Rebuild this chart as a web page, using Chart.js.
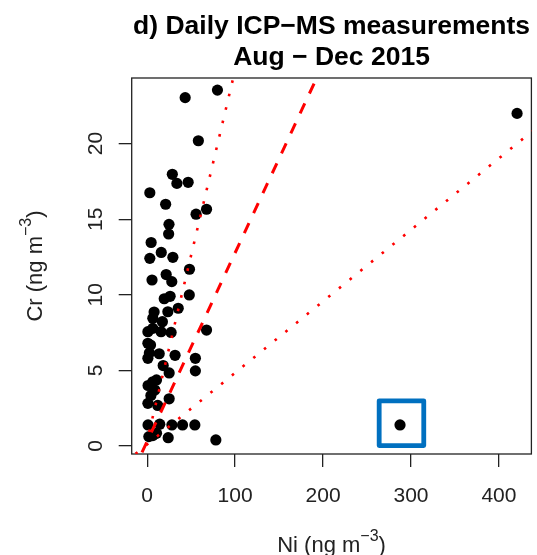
<!DOCTYPE html>
<html>
<head>
<meta charset="utf-8">
<script src="https://cdn.jsdelivr.net/npm/chart.js@4.4.1/dist/chart.umd.min.js"></script>
<style>
  html, body { margin: 0; padding: 0; background: #ffffff; }
  #wrap { width: 537px; height: 555px; }
</style>
</head>
<body>
<div id="wrap"><canvas id="chart" width="537" height="555"></canvas></div>
<script>
// Daily ICP-MS measurements, Aug - Dec 2015: Ni vs Cr (ng m-3)
const niValues = [79.9, 43.2, 58.2, 28.6, 33.8, 46.6, 3.0, 21.0, 55.6, 67.5,
  24.8, 24.4, 4.5, 16.0, 3.0, 29.2, 48.1, 5.5, 21.6, 28.0,
  47.9, 19.4, 26.1, 35.3, 7.9, 23.5, 6.4, 17.3, 67.5, 6.4,
  15.8, 27.2, 0.8, 0.8, 3.8, 2.5, 13.7, 31.7, 54.8, 54.8,
  18.2, 25.0, 1.0, 6.4, 10.6, 4.2, 0.8, 12.0, 25.0, 1.0,
  14.3, 28.1, 40.2, 54.2, 6.4, 23.9, 10.6, 78.1, 287.5, 420.6,
  0.8, 1.9, 8.7];
const crValues = [23.54, 23.04, 20.19, 17.97, 17.37, 17.44, 16.75, 15.99, 15.33, 15.66,
  14.66, 14.02, 13.46, 12.80, 12.41, 12.48, 11.69, 10.98, 11.34, 10.87,
  9.99, 9.74, 9.90, 9.11, 8.86, 8.88, 8.45, 8.22, 7.67, 7.78,
  7.56, 7.51, 7.56, 6.79, 6.68, 6.15, 6.10, 6.00, 5.80, 4.97,
  5.32, 4.83, 4.00, 4.25, 4.37, 3.34, 2.82, 2.68, 3.12, 1.39,
  1.44, 1.39, 1.39, 1.39, 0.69, 0.55, 0.84, 0.40, 1.39, 22.0,
  5.80, 0.62, 3.70];

// Reference lines: central ratio (dashed) and bounding ratios (dotted)
const fitSlopes = [0.1247, 0.245, 0.0473];
const fitIntercepts = [0.31, 0.37, 0.11];

// Tick labels
const xTickValues = [0, 100, 200, 300, 400];
const yTickValues = [0, 5, 10, 15, 20];

// Highlighted sample (Ni, Cr corners of the frame)
const outlierBoxX = [263.8, 314.5];
const outlierBoxY = [0.03, 2.99];

const xRange = [-17.6, 436.9];
const yRange = [-0.53, 24.34];

const FONT = '"Liberation Sans", Arial, Helvetica, sans-serif';
const INK = '#222222';

const points = niValues.map((v, i) => ({ x: v, y: crValues[i] }));
const lineStyles = [
  { dash: [11, 11], width: 3 },
  { dash: [2.6, 11.2], width: 2.6 },
  { dash: [2.6, 11.2], width: 2.6 }
];
const lineSets = fitSlopes.map((s, i) => ({
  type: 'line',
  data: [xRange[0] - 20, xRange[1] + 20].map(x => ({ x: x, y: fitIntercepts[i] + s * x })),
  borderColor: '#ff0000',
  borderWidth: lineStyles[i].width,
  borderDash: lineStyles[i].dash,
  pointRadius: 0,
  fill: false,
  clip: 0,
  order: 0
}));

function drawSuper(ctx, parts, x, y, align) {
  // parts: main text, superscript text, tail text
  ctx.font = '22px ' + FONT;
  const w1 = ctx.measureText(parts[0]).width;
  const w3 = ctx.measureText(parts[2]).width;
  ctx.font = '16px ' + FONT;
  const w2 = ctx.measureText(parts[1]).width;
  const total = w1 + w2 + w3;
  let sx = x - total / 2;
  ctx.textAlign = 'left';
  ctx.textBaseline = 'alphabetic';
  ctx.font = '22px ' + FONT;
  ctx.fillText(parts[0], sx, y);
  ctx.font = '16px ' + FONT;
  ctx.fillText(parts[1], sx + w1, y - 11);
  ctx.font = '22px ' + FONT;
  ctx.fillText(parts[2], sx + w1 + w2, y);
}

const decorations = {
  id: 'decorations',
  beforeDatasetsDraw(chart) {
    const { ctx, chartArea: a } = chart;
    ctx.save();
    ctx.strokeStyle = INK;
    ctx.lineWidth = 1.3;
    ctx.strokeRect(a.left, a.top, a.right - a.left, a.bottom - a.top);
    ctx.restore();
  },
  afterDatasetsDraw(chart) {
    const { ctx, chartArea: a, scales } = chart;
    const xs = scales.x, ys = scales.y;
    ctx.save();
    // frame around the highlighted sample
    const l = xs.getPixelForValue(outlierBoxX[0]);
    const r = xs.getPixelForValue(outlierBoxX[1]);
    const t = ys.getPixelForValue(outlierBoxY[1]);
    const b = ys.getPixelForValue(outlierBoxY[0]);
    ctx.strokeStyle = '#0070c0';
    ctx.lineWidth = 4.8;
    ctx.lineJoin = 'round';
    ctx.strokeRect(l, t, r - l, b - t);

    ctx.fillStyle = INK;
    // y tick labels, rotated as in the axis
    ctx.font = '21px ' + FONT;
    ctx.textAlign = 'center';
    ctx.textBaseline = 'alphabetic';
    yTickValues.forEach(v => {
      const py = ys.getPixelForValue(v);
      ctx.save();
      ctx.translate(101.5, py);
      ctx.rotate(-Math.PI / 2);
      ctx.fillText(String(v), 0, 0);
      ctx.restore();
    });

    // title
    const cx = (a.left + a.right) / 2;
    ctx.fillStyle = '#000000';
    ctx.font = 'bold 26.5px ' + FONT;
    ctx.textAlign = 'center';
    ctx.fillText('d) Daily ICP\u2212MS measurements', cx, 34);
    ctx.fillText('Aug \u2212 Dec 2015', cx, 64.5);

    // axis titles
    ctx.fillStyle = INK;
    drawSuper(ctx, ['Ni (ng m', '\u22123', ')'], cx, 552);
    ctx.save();
    ctx.translate(41.5, (a.top + a.bottom) / 2);
    ctx.rotate(-Math.PI / 2);
    drawSuper(ctx, ['Cr (ng m', '\u22123', ')'], 0, 0);
    ctx.restore();
    ctx.restore();
  }
};

new Chart(document.getElementById('chart'), {
  type: 'scatter',
  data: {
    datasets: [
      {
        data: points,
        backgroundColor: '#000000',
        borderColor: '#000000',
        borderWidth: 0,
        pointRadius: 5.6,
        pointHoverRadius: 5.6,
        order: 1
      },
      ...lineSets
    ]
  },
  options: {
    responsive: false,
    animation: false,
    devicePixelRatio: 1,
    layout: { padding: { top: 78, right: 1.5, left: 0, bottom: 0 } },
    plugins: { legend: { display: false }, tooltip: { enabled: false }, title: { display: false } },
    scales: {
      x: {
        type: 'linear',
        min: xRange[0],
        max: xRange[1],
        afterBuildTicks(scale) { scale.ticks = xTickValues.map(v => ({ value: v })); },
        afterFit(scale) { scale.height = 101; },
        grid: { display: true, drawOnChartArea: false, drawTicks: true, tickLength: 13, color: INK, lineWidth: 1.3 },
        border: { display: false },
        ticks: { font: { family: FONT, size: 21 }, color: INK, padding: 17, maxRotation: 0, minRotation: 0 }
      },
      y: {
        type: 'linear',
        min: yRange[0],
        max: yRange[1],
        afterBuildTicks(scale) { scale.ticks = yTickValues.map(v => ({ value: v })); },
        afterFit(scale) { scale.width = 131.7; },
        grid: { display: true, drawOnChartArea: false, drawTicks: true, tickLength: 13, color: INK, lineWidth: 1.3 },
        border: { display: false },
        ticks: { display: false }
      }
    }
  },
  plugins: [decorations]
});
</script>
</body>
</html>
